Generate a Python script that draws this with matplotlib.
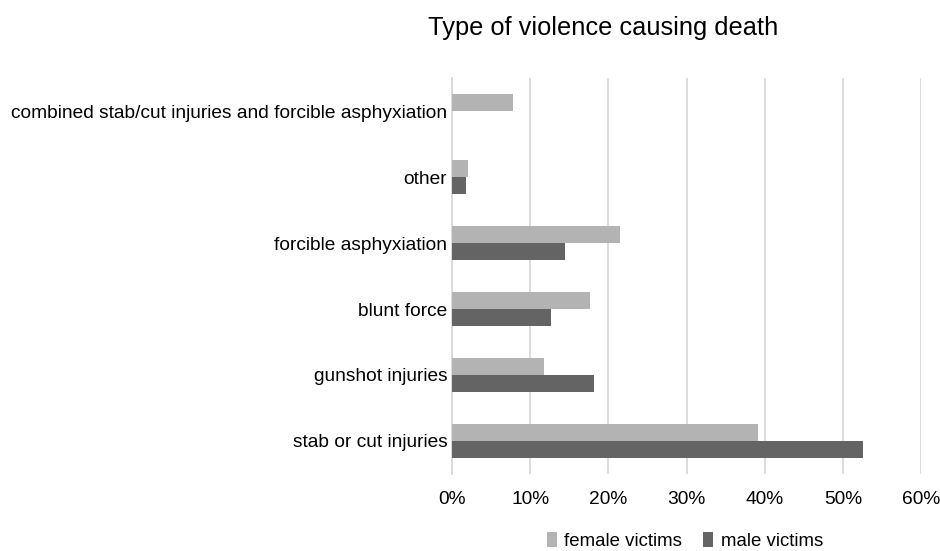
import matplotlib
matplotlib.use("Agg")
import matplotlib.pyplot as plt
import numpy as np

# categories from bottom to top
categories = ["stab or cut injuries", "gunshot injuries", "blunt force",
              "forcible asphyxiation", "other",
              "combined stab/cut injuries and forcible asphyxiation"]
female = [39.1, 11.8, 17.6, 21.5, 2.0, 7.8]
male = [52.5, 18.2, 12.7, 14.4, 1.8, 0.0]
xticks = [0, 10, 20, 30, 40, 50, 60]

plt.rcParams['font.family'] = ['Liberation Sans', 'DejaVu Sans']

fig = plt.figure(figsize=(9.4, 5.51), dpi=100)
ax = fig.add_axes([0.481, 0.140, 0.499, 0.718])

y = np.arange(len(categories))
h = 0.26
ax.barh(y + h / 2, female, height=h, color='#b3b3b3', label='female victims', zorder=3)
ax.barh(y - h / 2, male, height=h, color='#646464', label='male victims', zorder=3)

ax.set_xlim(0, 60)
ax.set_ylim(-0.5, len(categories) - 0.5)
ax.set_xticks(xticks)
ax.set_xticklabels([f"{t}%" for t in xticks], fontsize=13.8)
ax.set_yticks(y)
ax.set_yticklabels(categories, fontsize=13.8)
ax.tick_params(length=0, pad=3.5)
ax.tick_params(axis='x', pad=12)
ax.grid(axis='x', color='#d9d9d9', linewidth=1.3, zorder=0)
for s in ['top', 'right', 'bottom']:
    ax.spines[s].set_visible(False)
ax.spines['left'].set_color('#d9d9d9')
ax.spines['left'].set_linewidth(1.3)

fig.text(0.6415, 0.949, "Type of violence causing death", fontsize=18.3,
         ha='center', va='center')

ax.legend(loc='center', bbox_to_anchor=(0.496, -0.169), ncol=2, frameon=False,
          fontsize=13.4, handlelength=0.55, handleheight=0.9, handletextpad=0.4,
          columnspacing=1.1, borderpad=0)

fig.savefig("out.png", dpi=100)
